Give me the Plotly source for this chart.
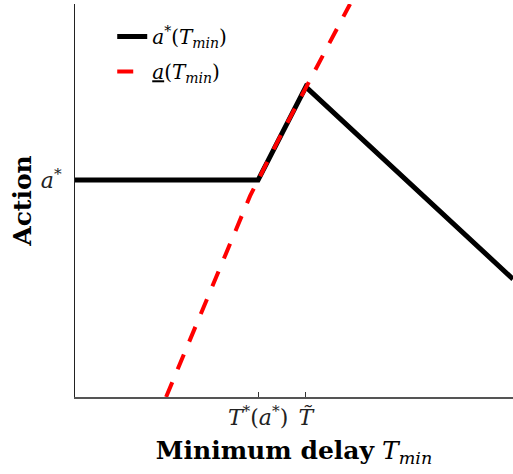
import plotly.graph_objects as go

# Data (normalised units)
black_x = [0.0, 0.418, 0.527, 1.0]
black_y = [0.552, 0.552, 0.789, 0.300]

red_x = [0.208, 0.3995, 0.4726, 0.5274, 0.628]
red_y = [0.0, 0.511, 0.672, 0.789, 1.0]

xtick_vals = [0.418, 0.527]
xtick_text = ["<i>T</i><sup>*</sup>(<i>a</i><sup>*</sup>)", "<i>T̃</i>"]
ytick_vals = [0.552]
ytick_text = ["<i>a</i><sup>*</sup>"]

serif = "DejaVu Serif"

fig = go.Figure()
fig.add_trace(go.Scatter(
    x=black_x, y=black_y, mode="lines",
    line=dict(color="black", width=5),
    name="<i>a</i><sup>*</sup>(<i>T</i><sub><i>min</i></sub>)",
    legendgroup="a",
))
fig.add_trace(go.Scatter(
    x=red_x, y=red_y, mode="lines",
    line=dict(color="red", width=4, dash="16px,14px"),
    name="<u><i>a</i></u>(<i>T</i><sub><i>min</i></sub>)",
    legendgroup="b",
))

fig.update_layout(
    width=513, height=474,
    margin=dict(l=75, r=0, t=4, b=77, autoexpand=False),
    plot_bgcolor="white", paper_bgcolor="white",
    font=dict(family=serif, color="black", size=17),
    showlegend=True,
    legend=dict(
        x=0.085, y=0.967, xanchor="left", yanchor="top",
        bgcolor="rgba(0,0,0,0)", font=dict(size=20, family=serif),
        tracegroupgap=6,
    ),
    xaxis=dict(
        range=[0, 1], showgrid=False, zeroline=False, automargin=False,
        showline=True, linecolor="#555", linewidth=2,
        tickmode="array", tickvals=xtick_vals, ticktext=xtick_text,
        ticks="inside", ticklen=5, tickcolor="#333",
        tickfont=dict(size=22, family=serif, color="#222"),
        title=dict(text="<b>Minimum delay</b> <i>T</i><sub><i>min</i></sub>",
                   font=dict(size=25, family=serif), standoff=12),
    ),
    yaxis=dict(
        range=[0, 1], showgrid=False, zeroline=False, automargin=False,
        showline=True, linecolor="#222", linewidth=1,
        tickmode="array", tickvals=ytick_vals, ticktext=ytick_text,
        ticks="", tickfont=dict(size=22, family=serif, color="#222"),
        ticklabelstandoff=8,
        title=dict(text="<b>Action</b>", font=dict(size=25, family=serif), standoff=2),
    ),
)

fig.write_html(
    "out.html",
    config={"displayModeBar": False},
    post_script="document.body.style.margin='0';document.body.style.overflow='hidden';",
)
